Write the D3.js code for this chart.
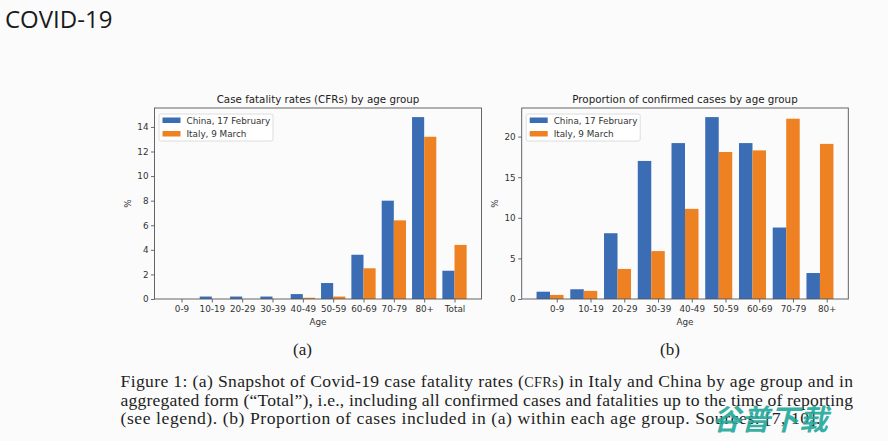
<!DOCTYPE html>
<html>
<head>
<meta charset="utf-8">
<script src="https://cdn.jsdelivr.net/npm/d3@7"></script>
<style>
  html, body { margin: 0; padding: 0; background: #fbfbfb; }
  svg { display: block; }
</style>
</head>
<body>
<svg id="chart" width="888" height="441"></svg>
<script>
// ---------- data ----------
const ageGroups = ["0-9", "10-19", "20-29", "30-39", "40-49", "50-59", "60-69", "70-79", "80+"];
const cfrCategories = ["0-9", "10-19", "20-29", "30-39", "40-49", "50-59", "60-69", "70-79", "80+", "Total"];
const cfrChina = [0, 0.2, 0.2, 0.2, 0.4, 1.3, 3.6, 8.0, 14.8, 2.3];
const cfrItaly = [0, 0, 0, 0, 0.1, 0.2, 2.5, 6.4, 13.2, 4.4];
const propChina = [0.9, 1.2, 8.1, 17.0, 19.2, 22.4, 19.2, 8.8, 3.2];
const propItaly = [0.5, 1.0, 3.7, 5.9, 11.1, 18.1, 18.3, 22.2, 19.1];
const cfrTicks = [0, 2, 4, 6, 8, 10, 12, 14];
const propTicks = [0, 5, 10, 15, 20];
const seriesNames = ["China, 17 February", "Italy, 9 March"];

// ---------- style ----------
const BLUE = "#3b6db4";
const ORANGE = "#ee8122";
const SANS = "'DejaVu Sans', sans-serif";
const SERIF = "'Liberation Serif', 'Times New Roman', serif";

const svg = d3.select("#chart");
svg.append("rect").attr("width", 888).attr("height", 441).attr("fill", "#fbfbfb");

// slide title
svg.append("text").attr("x", 5).attr("y", 28)
  .attr("font-family", "'Open Sans', 'Noto Sans', sans-serif").attr("font-size", 24)
  .attr("fill", "#1a1a1a").text("COVID-19");

function drawPanel(opts) {
  const { left, right, top, bottom, cats, china, italy, yMax, yTicks, tickShift, title } = opts;
  const n = cats.length;
  const w = 0.4;
  const span = (n - 1) + w + w;
  const margin = span * 0.05;
  const x = d3.scaleLinear().domain([-w - margin, n - 1 + w + margin]).range([left, right]);
  const y = d3.scaleLinear().domain([0, yMax * 1.05]).range([bottom, top]);
  const g = svg.append("g");

  // bars
  g.selectAll("rect.china").data(china).join("rect")
    .attr("x", (d, i) => x(i - w)).attr("width", (d, i) => x(i) - x(i - w))
    .attr("y", d => y(d)).attr("height", d => y(0) - y(d)).attr("fill", BLUE);
  g.selectAll("rect.italy").data(italy).join("rect")
    .attr("x", (d, i) => x(i)).attr("width", (d, i) => x(i + w) - x(i))
    .attr("y", d => y(d)).attr("height", d => y(0) - y(d)).attr("fill", ORANGE);

  // axes
  const yAxis = d3.axisLeft(y).tickValues(yTicks).tickSize(3.5).tickPadding(2.5);
  const yg = g.append("g").attr("transform", `translate(${left},0)`).call(yAxis);
  const xAxis = d3.axisBottom(x).tickValues(d3.range(n).map(i => i + tickShift))
    .tickFormat((d, i) => cats[i]).tickSize(3.5).tickPadding(3);
  const xg = g.append("g").attr("transform", `translate(0,${bottom})`).call(xAxis);
  [yg, xg].forEach(a => {
    a.select(".domain").remove();
    a.selectAll("line").attr("stroke", "#444").attr("stroke-width", 0.8);
    a.selectAll("text").attr("font-family", SANS).attr("font-size", 8.8).attr("fill", "#333");
  });

  // frame
  g.append("rect").attr("x", left).attr("y", top).attr("width", right - left).attr("height", bottom - top)
    .attr("fill", "none").attr("stroke", "#555").attr("stroke-width", 0.9);

  // title and labels
  const cx = (left + right) / 2;
  g.append("text").attr("x", cx).attr("y", top - 5).attr("text-anchor", "middle")
    .attr("font-family", SANS).attr("font-size", 10.3).attr("fill", "#222").text(title);
  g.append("text").attr("x", cx).attr("y", bottom + 25.5).attr("text-anchor", "middle")
    .attr("font-family", SANS).attr("font-size", 8.8).attr("fill", "#333").text("Age");
  g.append("text").attr("transform", `translate(${left - 24},${(top + bottom) / 2}) rotate(-90)`)
    .attr("text-anchor", "middle").attr("font-family", SANS).attr("font-size", 8.8).attr("fill", "#333").text("%");

  // legend
  const lx = left + 4.5, ly = top + 6;
  const lg = g.append("g");
  lg.append("rect").attr("x", lx).attr("y", ly).attr("width", 114).attr("height", 27).attr("rx", 2)
    .attr("fill", "#fff").attr("fill-opacity", 0.9).attr("stroke", "#d5d5d5").attr("stroke-width", 0.8);
  [BLUE, ORANGE].forEach((c, i) => {
    lg.append("rect").attr("x", lx + 3.5).attr("y", ly + 3.5 + i * 13.5).attr("width", 18).attr("height", 5.5).attr("fill", c);
    lg.append("text").attr("x", lx + 27.5).attr("y", ly + 9.5 + i * 13.5)
      .attr("font-family", SANS).attr("font-size", 8.8).attr("fill", "#333").text(seriesNames[i]);
  });
}

drawPanel({ left: 154.5, right: 481.5, top: 108, bottom: 299, cats: cfrCategories, china: cfrChina, italy: cfrItaly,
  yMax: d3.max(cfrChina.concat(cfrItaly)), yTicks: cfrTicks, tickShift: 0, title: "Case fatality rates (CFRs) by age group" });
drawPanel({ left: 521.7, right: 848.3, top: 108, bottom: 299, cats: ageGroups, china: propChina, italy: propItaly,
  yMax: d3.max(propChina.concat(propItaly)), yTicks: propTicks, tickShift: 0.2, title: "Proportion of confirmed cases by age group" });

// sub-figure labels
svg.append("text").attr("x", 302.5).attr("y", 355).attr("text-anchor", "middle")
  .attr("font-family", SERIF).attr("font-size", 17).attr("fill", "#222").text("(a)");
svg.append("text").attr("x", 670).attr("y", 355).attr("text-anchor", "middle")
  .attr("font-family", SERIF).attr("font-size", 17).attr("fill", "#222").text("(b)");

// caption
const cap = svg.append("g").attr("font-family", SERIF).attr("font-size", 17.6).attr("fill", "#1e1e1e");
const l1 = cap.append("text").attr("x", 120.5).attr("y", 387).attr("textLength", 732.5).attr("lengthAdjust", "spacing");
l1.append("tspan").text("Figure 1: (a) Snapshot of Covid-19 case fatality rates (");
l1.append("tspan").attr("font-size", 14.2).text("CFR");
l1.append("tspan").attr("font-size", 14.2).text("s");
l1.append("tspan").text(") in Italy and China by age group and in");
cap.append("text").attr("x", 120.5).attr("y", 405.5).attr("textLength", 732.5).attr("lengthAdjust", "spacing")
  .text("aggregated form (“Total”), i.e., including all confirmed cases and fatalities up to the time of reporting");
cap.append("text").attr("x", 120.5).attr("y", 424).attr("textLength", 700).attr("lengthAdjust", "spacing")
  .text("(see legend). (b) Proportion of cases included in (a) within each age group. Sources: [7, 10].");

// watermark
svg.append("text").attr("x", 712).attr("y", 430)
  .attr("font-family", "'Noto Sans CJK SC', sans-serif").attr("font-weight", "bold").attr("font-size", 29)
  .attr("font-style", "italic").attr("fill", "#24a89a").attr("fill-opacity", 0.92).text("谷普下载");
</script>
</body>
</html>
